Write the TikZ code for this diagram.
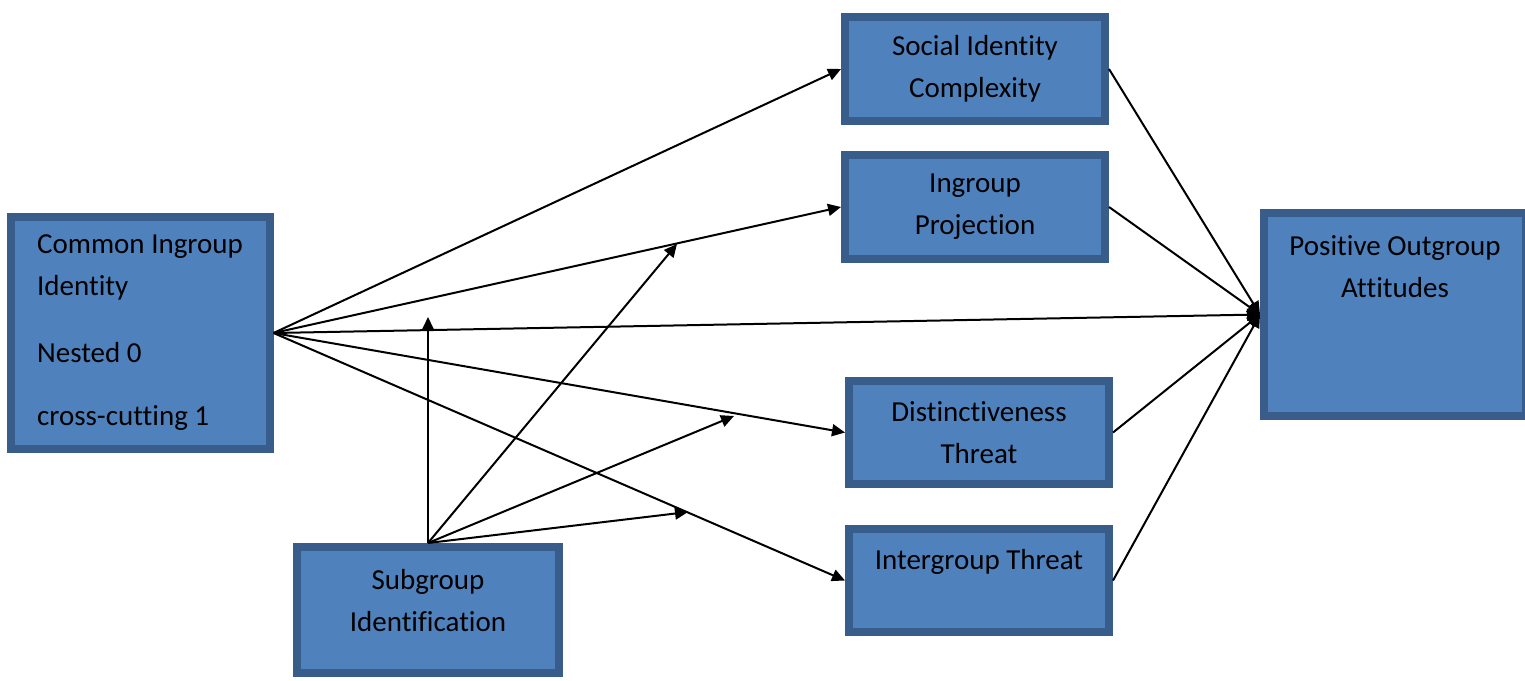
\documentclass[tikz,border=0pt]{standalone}
\usepackage{fontspec}
\setmainfont{Carlito}[Ligatures=NoCommon]
\usetikzlibrary{positioning,shadows,arrows.meta}
\definecolor{boxfill}{HTML}{4F81BD}
\definecolor{boxline}{HTML}{385D8A}
\definecolor{boxshade}{HTML}{2E4C73}

\begin{document}
\begin{tikzpicture}[x=0.5pt,y=-0.5pt,>={Triangle[length=6.5pt,width=6pt]},
  box/.style={rectangle,draw=boxline,line width=4pt,fill=boxfill,
    drop shadow={shadow xshift=2pt,shadow yshift=-2pt,fill=boxshade,opacity=1},
    font=\fontsize{14.5}{21}\selectfont,align=center,inner sep=0pt,
    minimum width=130pt,minimum height=52pt},
  link/.style={->,line width=1pt}]
  \useasboundingbox (0,0) rectangle (1525,680);
  \node[box,align=left,minimum width=129.5pt,minimum height=116pt] (cig) at (140,333)
    {Common Ingroup\\Identity\\[12.5pt]Nested 0\\[10.5pt]cross-cutting 1};
  \node[box] (sic) at (975,69) {Social Identity\\Complexity};
  \node[box] (ip) at (975,207) {Ingroup\\Projection};
  \node[box,minimum height=51.5pt] (dt) at (979,432.5) {Distinctiveness\\Threat};
  \node[box,minimum height=51.5pt] (it) at (979,580.5) {Intergroup Threat\\\mbox{}};
  \node[box,minimum width=131pt,minimum height=63pt] (sg) at (428,610)
    {Subgroup\\Identification\\[-11pt]\mbox{}};
  \node[box,minimum width=131pt,minimum height=101.5pt] (poa) at (1395,314.5)
    {Positive Outgroup\\Attitudes\\[26.5pt]\mbox{}};
  % free ends of the subgroup arrows
  \coordinate (m1) at (428,317);
  \coordinate (m2) at (677,244);
  \coordinate (m3) at (734,416);
  \coordinate (m4) at (688,512);
  \draw[link] (cig.east) -- (sic.west);
  \draw[link] (cig.east) -- (ip.west);
  \draw[link] (cig.east) -- (poa.west);
  \draw[link] (cig.east) -- (dt.west);
  \draw[link] (cig.east) -- (it.west);
  \draw[link] (sg.north) -- (m1);
  \draw[link] (sg.north) -- (m2);
  \draw[link] (sg.north) -- (m3);
  \draw[link] (sg.north) -- (m4);
  \draw[link] (sic.east) -- (poa.west);
  \draw[link] (ip.east) -- (poa.west);
  \draw[link] (dt.east) -- (poa.west);
  \draw[link] (it.east) -- (poa.west);
\end{tikzpicture}
\end{document}
